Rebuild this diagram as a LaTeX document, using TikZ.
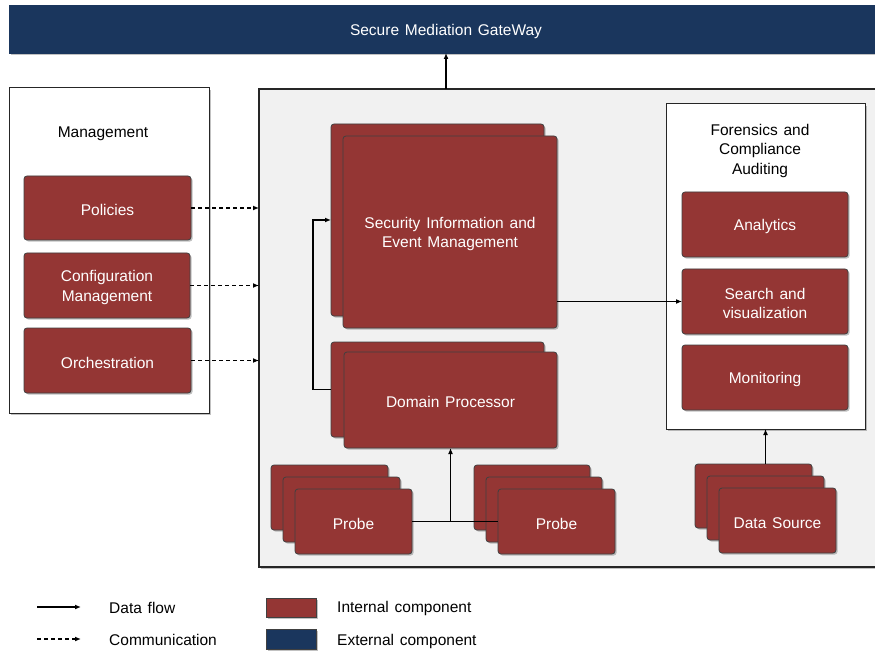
\documentclass[tikz,border=0pt]{standalone}
\usepackage{fontspec}
\setmainfont{Liberation Sans}[WordSpace={1.35,1,1}]
\usetikzlibrary{shadows,arrows.meta}
\definecolor{intred}{HTML}{943634}
\definecolor{extblue}{HTML}{1A365D}
\definecolor{boxline}{HTML}{404040}
\definecolor{panel}{HTML}{F1F1F1}
\newcommand{\tstrut}{\rule{0pt}{15.5pt}}
\tikzset{
  shad/.style={drop shadow={shadow xshift=1.6pt,shadow yshift=-1.6pt,opacity=0.35,fill=black!70}},
  redbox/.style={draw=boxline,line width=0.8pt,fill=intred,rounded corners=3pt,text=white,
    align=center,outer sep=0pt,inner sep=0pt,shad,font=\fontsize{15.5}{19.5}\selectfont},
  framebox/.style={draw=black!85,line width=1pt,fill=white,outer sep=0pt,inner sep=0pt,shad},
  flow/.style={line width=1.3pt,-{Latex[length=6pt,width=5pt]}},
  comm/.style={line width=1.3pt,dash pattern=on 4pt off 3pt,-{Latex[length=6pt,width=5pt]}},
  txt/.style={font=\fontsize{15.5}{19.5}\selectfont,align=center,inner sep=0pt},
}
\newcommand{\rbox}[6]{\node[redbox,minimum width=#4-#2,minimum height=#5-#3] (#1) at ({(#2+#4)/2},{(#3+#5)/2}) {#6};}
\begin{document}
\begin{tikzpicture}[x=1pt,y=-1pt]
\useasboundingbox (0,0) rectangle (875,652);
% gateway
\node[fill=extblue,draw=extblue,text=white,minimum width=874,minimum height=48,outer sep=0pt,
  shad,font=\fontsize{15.5}{19.5}\selectfont] (gw) at (446,29) {\tstrut Secure Mediation GateWay};
% management
\node[framebox,minimum width=200,minimum height=325] (mgmt) at (109,250.5) {};
\node[txt] (mgmtt) at (103,134) {Management};
\rbox{pol}{24}{176}{191}{240}{\tstrut Policies}
\rbox{conf}{24}{253}{190}{318}{\tstrut Configuration\\Management}
\rbox{orch}{24}{328}{191}{393}{\tstrut Orchestration}
% main panel
\node[draw=black!85,line width=1.2pt,fill=panel,minimum width=624,minimum height=478,outer sep=0pt,
  shad] (main) at (571,328) {};
% SIEM
\rbox{siemb}{331}{124}{544}{316}{}
\rbox{siemf}{343}{136}{557}{328}{\tstrut Security Information and\\Event Management}
% Domain processor
\rbox{dpb}{331}{342}{544}{437}{}
\rbox{dpf}{344}{352}{557}{448}{\tstrut Domain Processor}
% forensics
\node[framebox,minimum width=199,minimum height=325] (foren) at (765.5,266.5) {};
\node[txt] (forent) at (760,150.5) {Forensics and\\Compliance\\Auditing};
\rbox{ana}{682}{192}{848}{257}{\tstrut Analytics}
\rbox{srch}{682}{269}{848}{334}{\tstrut Search and\\visualization}
\rbox{mon}{682}{345}{848}{410}{\tstrut Monitoring}
% probes
\rbox{plb}{271}{465}{388}{530}{}
\rbox{plm}{283}{477}{400}{542}{}
\rbox{pl}{295}{489}{412}{554}{\tstrut Probe}
\rbox{prb}{474}{465}{590}{530}{}
\rbox{prm}{486}{477}{602}{542}{}
\rbox{pr}{498}{489}{615}{554}{\tstrut Probe}
% data source
\rbox{dsb}{695}{464}{812}{528}{}
\rbox{dsm}{707}{476}{824}{540}{}
\rbox{ds}{719}{488}{836}{553}{\tstrut Data Source}
% connectors
\draw[flow] (main.north -| gw.south) -- (gw.south);
\draw[comm] (pol.east) -- (pol.east -| main.west);
\draw[comm] (conf.east) -- (conf.east -| main.west);
\draw[comm] (orch.east) -- (orch.east -| main.west);
\draw[flow] (dpb.west) -- ++(-18,0) |- (siemb.west);
\draw[flow] (siemf.east |- srch.west) -- (srch.west);
\draw[line width=1.3pt] (pl.east) -- (pr.west);
\draw[flow] (pl.east -| dpf.south) -- (dpf.south);
\draw[flow] (dsb.north -| foren.south) -- (foren.south);
% legend
\coordinate (l1a) at (37,607); \coordinate (l1b) at (81,607);
\coordinate (l2a) at (37,639); \coordinate (l2b) at (81,639);
\draw[flow] (l1a) -- (l1b);
\draw[comm] (l2a) -- (l2b);
\node[txt,anchor=west] (lt1) at (109,608) {Data flow};
\node[txt,anchor=west] (lt2) at (109,640) {Communication};
\node[draw=boxline,line width=0.8pt,fill=intred,minimum width=50,minimum height=19,outer sep=0pt,shad] (sw1) at (291,607.5) {};
\node[draw=boxline,line width=0.8pt,fill=extblue,minimum width=50,minimum height=20,outer sep=0pt,shad] (sw2) at (291,639) {};
\node[txt,anchor=west] (lt3) at (337,608) {Internal component};
\node[txt,anchor=west] (lt4) at (337,641) {External component};
\end{tikzpicture}
\end{document}
